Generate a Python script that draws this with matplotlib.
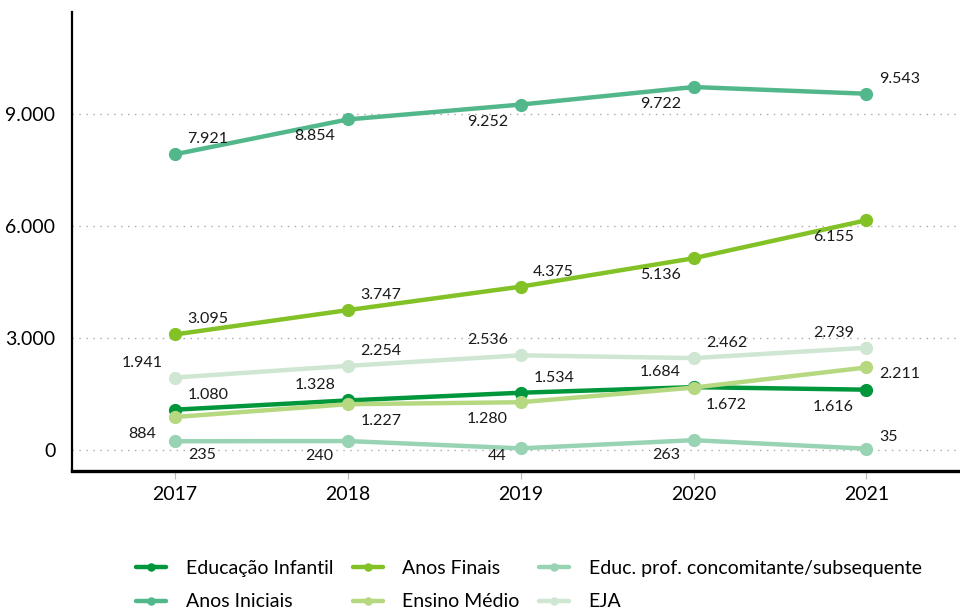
import matplotlib
matplotlib.use("Agg")
import matplotlib.pyplot as plt
from matplotlib.ticker import FuncFormatter

plt.rcParams['font.family'] = ['Lato', 'DejaVu Sans']

years = ["2017", "2018", "2019", "2020", "2021"]
educacao_infantil = [1080, 1328, 1534, 1684, 1616]
anos_iniciais = [7921, 8854, 9252, 9722, 9543]
anos_finais = [3095, 3747, 4375, 5136, 6155]
ensino_medio = [884, 1227, 1280, 1672, 2211]
educ_prof = [235, 240, 44, 263, 35]
eja = [1941, 2254, 2536, 2462, 2739]

series = [
    ("Educação Infantil", educacao_infantil, "#00963c"),
    ("Anos Iniciais", anos_iniciais, "#52b88b"),
    ("Anos Finais", anos_finais, "#83c226"),
    ("Ensino Médio", ensino_medio, "#b6d880"),
    ("Educ. prof. concomitante/subsequente", educ_prof, "#98d3b4"),
    ("EJA", eja, "#cfe6d3"),
]

# label offsets in pixels (dx, dy) per series / point
R_A = (33, 15); L_B = (-33, -17); L_A = (-33, 15); R_B = (33, -17)
offsets = {
    "Educação Infantil": [R_A, L_A, R_A, L_A, L_B],
    "Anos Iniciais": [R_A, L_B, L_B, L_B, R_A],
    "Anos Finais": [R_A, R_A, R_A, L_B, L_B],
    "Ensino Médio": [L_B, R_B, L_B, R_B, (33, -7)],
    "Educ. prof. concomitante/subsequente": [(27, -14), (-28, -15), (-23, -8), (-27, -15), (22, 12)],
    "EJA": [L_A, R_A, L_A, R_A, L_A],
}

def fmt(v):
    return f"{v:,.0f}".replace(",", ".")

fig = plt.figure(figsize=(9.6, 6.12), dpi=100)
ax = fig.add_axes([0.075, 0.2304, 0.923, 0.7500])
x = list(range(len(years)))

draw_order = ["EJA", "Educ. prof. concomitante/subsequente", "Educação Infantil",
              "Ensino Médio", "Anos Finais", "Anos Iniciais"]
handles = {}
for name in draw_order:
    for n, vals, col in series:
        if n != name:
            continue
        h, = ax.plot(x, vals, color=col, lw=3.2, marker='o', ms=8.5, label=n,
                     solid_capstyle='round', zorder=3)
        handles[n] = h
        for i, v in enumerate(vals):
            dx, dy = offsets[n][i]
            ax.annotate(fmt(v), (i, v), xytext=(dx, dy), textcoords='offset pixels',
                        ha='center', va='center', fontsize=11.5, color='#1a1a1a', zorder=5)

ax.set_xlim(-0.595, 4.53)
ax.set_ylim(-562, 11732)
ax.set_yticks([0, 3000, 6000, 9000])
ax.yaxis.set_major_formatter(FuncFormatter(lambda v, p: fmt(v)))
ax.set_xticks(x)
ax.set_xticklabels(years)
ax.grid(axis='y', linestyle=(0, (1, 4)), color='#aaaaaa', lw=1)
ax.set_axisbelow(True)
for s in ['top', 'right']:
    ax.spines[s].set_visible(False)
ax.spines['left'].set_linewidth(1.6)
ax.spines['bottom'].set_linewidth(2.4)
ax.tick_params(axis='y', length=0, labelsize=14, pad=12)
ax.tick_params(axis='x', length=6, color='#bbbbbb', labelsize=14, pad=5)

legend_order = ["Educação Infantil", "Anos Iniciais", "Anos Finais", "Ensino Médio",
                "Educ. prof. concomitante/subsequente", "EJA"]
fig.legend([handles[n] for n in legend_order], legend_order, ncol=3, frameon=False,
           loc='center', bbox_to_anchor=(0.551, 0.044), fontsize=14,
           handlelength=1.55, columnspacing=1.0, labelspacing=0.85, handletextpad=1.0,
           markerscale=0.6)

fig.savefig("out.png", dpi=100)
